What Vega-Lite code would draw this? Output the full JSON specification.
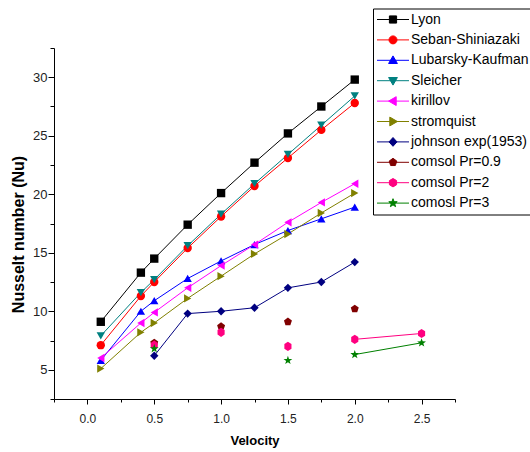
{
  "$schema": "https://vega.github.io/schema/vega-lite/v6.json",
  "width": 401,
  "height": 351,
  "autosize": "none",
  "padding": {"left": 54, "top": 48, "right": 75, "bottom": 53},
  "background": "white",
  "config": {
    "view": {"stroke": null},
    "axis": {"grid": false, "domainColor": "black", "tickColor": "black", "labelColor": "#222222", "labelFont": "Liberation Sans", "titleFont": "Liberation Sans", "titleColor": "black", "domainWidth": 1, "tickWidth": 1},
    "legend": {"labelFont": "Liberation Sans"}
  },
  "data": {"values": [
    {"series": "Lyon", "velocity": 0.1, "nu": 9.1, "connected": true},
    {"series": "Lyon", "velocity": 0.4, "nu": 13.3, "connected": true},
    {"series": "Lyon", "velocity": 0.5, "nu": 14.5, "connected": true},
    {"series": "Lyon", "velocity": 0.75, "nu": 17.4, "connected": true},
    {"series": "Lyon", "velocity": 1.0, "nu": 20.1, "connected": true},
    {"series": "Lyon", "velocity": 1.25, "nu": 22.7, "connected": true},
    {"series": "Lyon", "velocity": 1.5, "nu": 25.2, "connected": true},
    {"series": "Lyon", "velocity": 1.75, "nu": 27.5, "connected": true},
    {"series": "Lyon", "velocity": 2.0, "nu": 29.8, "connected": true},
    {"series": "Seban-Shiniazaki", "velocity": 0.1, "nu": 7.1, "connected": true},
    {"series": "Seban-Shiniazaki", "velocity": 0.4, "nu": 11.3, "connected": true},
    {"series": "Seban-Shiniazaki", "velocity": 0.5, "nu": 12.5, "connected": true},
    {"series": "Seban-Shiniazaki", "velocity": 0.75, "nu": 15.4, "connected": true},
    {"series": "Seban-Shiniazaki", "velocity": 1.0, "nu": 18.1, "connected": true},
    {"series": "Seban-Shiniazaki", "velocity": 1.25, "nu": 20.7, "connected": true},
    {"series": "Seban-Shiniazaki", "velocity": 1.5, "nu": 23.1, "connected": true},
    {"series": "Seban-Shiniazaki", "velocity": 1.75, "nu": 25.5, "connected": true},
    {"series": "Seban-Shiniazaki", "velocity": 2.0, "nu": 27.8, "connected": true},
    {"series": "Lubarsky-Kaufman", "velocity": 0.1, "nu": 5.8, "connected": true},
    {"series": "Lubarsky-Kaufman", "velocity": 0.4, "nu": 10.0, "connected": true},
    {"series": "Lubarsky-Kaufman", "velocity": 0.5, "nu": 10.9, "connected": true},
    {"series": "Lubarsky-Kaufman", "velocity": 0.75, "nu": 12.8, "connected": true},
    {"series": "Lubarsky-Kaufman", "velocity": 1.0, "nu": 14.3, "connected": true},
    {"series": "Lubarsky-Kaufman", "velocity": 1.25, "nu": 15.7, "connected": true},
    {"series": "Lubarsky-Kaufman", "velocity": 1.5, "nu": 16.9, "connected": true},
    {"series": "Lubarsky-Kaufman", "velocity": 1.75, "nu": 17.9, "connected": true},
    {"series": "Lubarsky-Kaufman", "velocity": 2.0, "nu": 18.9, "connected": true},
    {"series": "Sleicher", "velocity": 0.1, "nu": 7.9, "connected": true},
    {"series": "Sleicher", "velocity": 0.4, "nu": 11.6, "connected": true},
    {"series": "Sleicher", "velocity": 0.5, "nu": 12.7, "connected": true},
    {"series": "Sleicher", "velocity": 0.75, "nu": 15.6, "connected": true},
    {"series": "Sleicher", "velocity": 1.0, "nu": 18.3, "connected": true},
    {"series": "Sleicher", "velocity": 1.25, "nu": 20.9, "connected": true},
    {"series": "Sleicher", "velocity": 1.5, "nu": 23.4, "connected": true},
    {"series": "Sleicher", "velocity": 1.75, "nu": 25.9, "connected": true},
    {"series": "Sleicher", "velocity": 2.0, "nu": 28.4, "connected": true},
    {"series": "kirillov", "velocity": 0.1, "nu": 6.0, "connected": true},
    {"series": "kirillov", "velocity": 0.4, "nu": 9.0, "connected": true},
    {"series": "kirillov", "velocity": 0.5, "nu": 9.9, "connected": true},
    {"series": "kirillov", "velocity": 0.75, "nu": 12.0, "connected": true},
    {"series": "kirillov", "velocity": 1.0, "nu": 13.9, "connected": true},
    {"series": "kirillov", "velocity": 1.25, "nu": 15.7, "connected": true},
    {"series": "kirillov", "velocity": 1.5, "nu": 17.6, "connected": true},
    {"series": "kirillov", "velocity": 1.75, "nu": 19.3, "connected": true},
    {"series": "kirillov", "velocity": 2.0, "nu": 20.9, "connected": true},
    {"series": "stromquist", "velocity": 0.1, "nu": 5.1, "connected": true},
    {"series": "stromquist", "velocity": 0.4, "nu": 8.2, "connected": true},
    {"series": "stromquist", "velocity": 0.5, "nu": 9.0, "connected": true},
    {"series": "stromquist", "velocity": 0.75, "nu": 11.1, "connected": true},
    {"series": "stromquist", "velocity": 1.0, "nu": 13.0, "connected": true},
    {"series": "stromquist", "velocity": 1.25, "nu": 14.9, "connected": true},
    {"series": "stromquist", "velocity": 1.5, "nu": 16.6, "connected": true},
    {"series": "stromquist", "velocity": 1.75, "nu": 18.4, "connected": true},
    {"series": "stromquist", "velocity": 2.0, "nu": 20.1, "connected": true},
    {"series": "johnson exp(1953)", "velocity": 0.5, "nu": 6.2, "connected": true},
    {"series": "johnson exp(1953)", "velocity": 0.75, "nu": 9.8, "connected": true},
    {"series": "johnson exp(1953)", "velocity": 1.0, "nu": 10.0, "connected": true},
    {"series": "johnson exp(1953)", "velocity": 1.25, "nu": 10.3, "connected": true},
    {"series": "johnson exp(1953)", "velocity": 1.5, "nu": 12.0, "connected": true},
    {"series": "johnson exp(1953)", "velocity": 1.75, "nu": 12.5, "connected": true},
    {"series": "johnson exp(1953)", "velocity": 2.0, "nu": 14.2, "connected": true},
    {"series": "comsol Pr=0.9", "velocity": 0.5, "nu": 7.3, "connected": false},
    {"series": "comsol Pr=0.9", "velocity": 1.0, "nu": 8.7, "connected": false},
    {"series": "comsol Pr=0.9", "velocity": 1.5, "nu": 9.1, "connected": false},
    {"series": "comsol Pr=0.9", "velocity": 2.0, "nu": 10.2, "connected": false},
    {"series": "comsol Pr=2", "velocity": 0.5, "nu": 7.1, "connected": false},
    {"series": "comsol Pr=2", "velocity": 1.0, "nu": 8.2, "connected": false},
    {"series": "comsol Pr=2", "velocity": 1.5, "nu": 7.0, "connected": false},
    {"series": "comsol Pr=2", "velocity": 2.0, "nu": 7.6, "connected": true},
    {"series": "comsol Pr=2", "velocity": 2.5, "nu": 8.1, "connected": true},
    {"series": "comosl Pr=3", "velocity": 0.5, "nu": 6.8, "connected": false},
    {"series": "comosl Pr=3", "velocity": 1.5, "nu": 5.8, "connected": false},
    {"series": "comosl Pr=3", "velocity": 2.0, "nu": 6.3, "connected": true},
    {"series": "comosl Pr=3", "velocity": 2.5, "nu": 7.3, "connected": true}
  ]},
  "layer": [
    {
      "transform": [{"filter": "datum.connected"}],
      "mark": {"type": "line", "strokeWidth": 1, "opacity": 1},
      "encoding": {
        "x": {"field": "velocity", "type": "quantitative",
          "scale": {"domain": [-0.25, 2.75], "nice": false, "zero": false},
          "axis": {"orient": "bottom", "values": [0, 0.5, 1, 1.5, 2, 2.5], "format": ".1f", "tickSize": 5, "labelPadding": 9, "labelFontSize": 12, "title": "Velocity", "titleFontSize": 13, "titleFontWeight": "bold", "titlePadding": 10}},
        "y": {"field": "nu", "type": "quantitative",
          "scale": {"domain": [2.5, 32.5], "nice": false, "zero": false},
          "axis": {"orient": "left", "values": [5, 10, 15, 20, 25, 30], "tickSize": 6, "labelPadding": 1, "labelFontSize": 13, "title": "Nusselt number (Nu)", "titleFontSize": 16, "titleFontWeight": "bold", "titleBaseline": "alphabetic", "titleAlign": "center", "titleAngle": 270, "titleX": -31, "titleY": 186}},
        "color": {"field": "series", "type": "nominal", "sort": null,
          "scale": {
            "domain": ["Lyon", "Seban-Shiniazaki", "Lubarsky-Kaufman", "Sleicher", "kirillov", "stromquist", "johnson exp(1953)", "comsol Pr=0.9", "comsol Pr=2", "comosl Pr=3"],
            "range": ["#000000", "#ff0000", "#0000ff", "#008080", "#ff00ff", "#808000", "#000080", "#800000", "#ff0080", "#008000"]},
          "legend": {
            "title": null, "orient": "none", "legendX": 319, "legendY": -39.5,
            "strokeColor": "black", "fillColor": "white", "padding": 4, "rowPadding": 6.4,
            "labelFontSize": 14, "labelColor": "black", "labelOffset": 11,
            "symbolSize": 64, "symbolStrokeWidth": 1, "symbolOffset": 9, "symbolOpacity": 1,
            "encode": {"symbols": {"update": {
              "shape": {"signal": "{'Lyon':'M-4,0H4M-0.9,-0.9H0.9V0.9H-0.9Z','Seban-Shiniazaki':'M-4,0H4M-1,0A1,1,0,1,0,1,0A1,1,0,1,0,-1,0Z','Lubarsky-Kaufman':'M-4,0H4M0,-1.1L1.1,0.8L-1.1,0.8Z','Sleicher':'M-4,0H4M0,1.1L1.1,-0.8L-1.1,-0.8Z','kirillov':'M-4,0H4M-1.1,0L0.8,-1.1L0.8,1.1Z','stromquist':'M-4,0H4M1.1,0L-0.8,-1.1L-0.8,1.1Z','johnson exp(1953)':'M-4,0H4M0,-1.1L1,0L0,1.1L-1,0Z','comsol Pr=0.9':'M-4,0H4M0,-1L0.951,-0.309L0.588,0.809L-0.588,0.809L-0.951,-0.309Z','comsol Pr=2':'M-4,0H4M0,-1.05L0.9,-0.52L0.9,0.52L0,1.05L-0.9,0.52L-0.9,-0.52Z','comosl Pr=3':'M-4,0H4M0,-1.1L0.26,-0.36L1.05,-0.34L0.42,0.14L0.65,0.89L0,0.44L-0.65,0.89L-0.42,0.14L-1.05,-0.34L-0.26,-0.36Z'}[datum.value]"},
              "strokeWidth": {"value": 1}
            }}}
          }
        }
      }
    },
    {
      "mark": {"type": "point", "filled": true, "opacity": 1, "size": 70},
      "encoding": {
        "x": {"field": "velocity", "type": "quantitative",
          "axis": {"orient": "bottom", "values": [-0.25, 0.25, 0.75, 1.25, 1.75, 2.25, 2.75], "tickSize": 3, "labels": false, "domain": false, "title": null}},
        "y": {"field": "nu", "type": "quantitative",
          "axis": {"orient": "left", "values": [2.5, 7.5, 12.5, 17.5, 22.5, 27.5, 32.5], "tickSize": 4, "labels": false, "domain": false, "title": null}},
        "color": {"field": "series", "type": "nominal", "sort": null},
        "shape": {"field": "series", "type": "nominal", "sort": null, "legend": null,
          "scale": {
            "domain": ["comosl Pr=3", "comsol Pr=2", "comsol Pr=0.9", "johnson exp(1953)", "stromquist", "kirillov", "Sleicher", "Lubarsky-Kaufman", "Seban-Shiniazaki", "Lyon"],
            "range": ["M0,-1.1L0.26,-0.36L1.05,-0.34L0.42,0.14L0.65,0.89L0,0.44L-0.65,0.89L-0.42,0.14L-1.05,-0.34L-0.26,-0.36Z", "M0,-1.1L0.85,-0.55L0.85,0.55L0,1.1L-0.85,0.55L-0.85,-0.55Z", "M0,-1L0.951,-0.309L0.588,0.809L-0.588,0.809L-0.951,-0.309Z", "diamond", "triangle-right", "triangle-left", "triangle-down", "triangle-up", "circle", "square"]}}
      }
    }
  ],
  "resolve": {"axis": {"x": "independent", "y": "independent"}}
}
